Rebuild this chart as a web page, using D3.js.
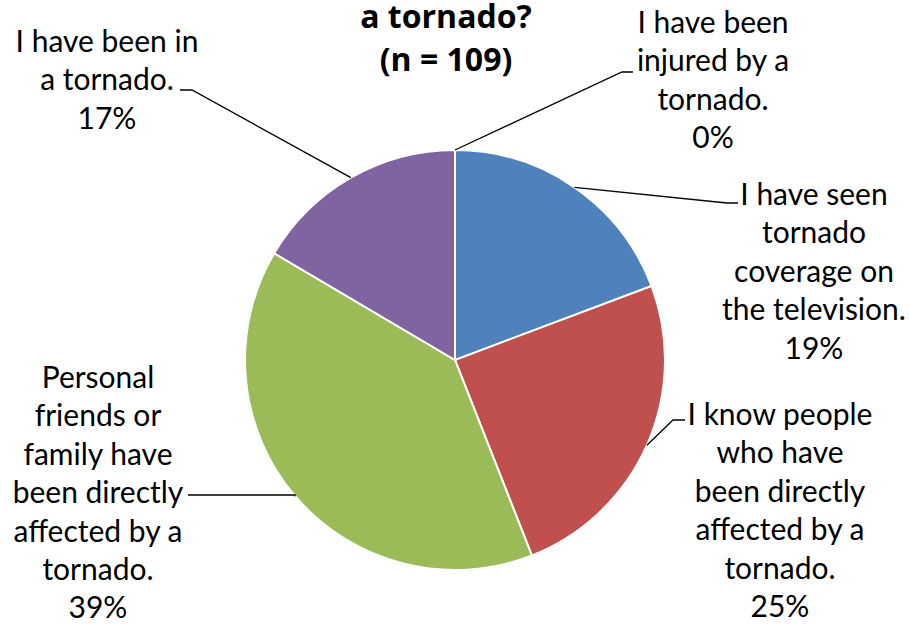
<!DOCTYPE html>
<html>
<head>
<meta charset="utf-8">
<script src="https://cdn.jsdelivr.net/npm/d3@7"></script>
<style>
  body { margin: 0; background: #fff; }
  svg text { font-family: Lato, "Open Sans", sans-serif; fill: #000; }
</style>
</head>
<body>
<div class="layout"></div>
<script>
    // answers, clockwise from 12 o'clock
    var categories = [
        "I have been injured by a tornado.",
        "I have seen tornado coverage on the television.",
        "I know people who have been directly affected by a tornado.",
        "Personal friends or family have been directly affected by a tornado.",
        "I have been in a tornado."
    ];
    var counts = [0, 21, 27, 43, 18];
    var colors = ["#4F81BD", "#4F81BD", "#C0504D", "#9BBB59", "#8064A2"];
    var labelLines = [
        ["I have been", "injured by a", "tornado."],
        ["I have seen", "tornado", "coverage on", "the television."],
        ["I know people", "who have", "been directly", "affected by a", "tornado."],
        ["Personal", "friends or", "family have", "been directly", "affected by a", "tornado."],
        ["I have been in", "a tornado."]
    ];
    var titleLines = ["a tornado?", "(n = 109)"];

    var width = 909, height = 624,
        cx = 455, cy = 360, radius = 210,
        lineH = 38.4;

    // where each label block sits (center x, first baseline) and where its leader ends
    var labelPos = [
        {x: 713, y: 33, lx: 622, ly: 72, hx: 633},
        {x: 814, y: 205, lx: 727, ly: 203, hx: 738},
        {x: 780, y: 425, lx: 673, ly: 420, hx: 685},
        {x: 98,  y: 388, lx: 295, ly: 495, hx: 188},
        {x: 107, y: 52,  lx: 192, ly: 90,  hx: 180}
    ];

    var total = d3.sum(counts);
    var fmt = d3.format(".0%");

    var svg = d3.select(".layout").append("svg")
        .attr("width", width)
        .attr("height", height);

    var pie = d3.pie().sort(null).value(function(d) { return d; });
    var arcs = pie(counts);

    var arc = d3.arc().innerRadius(0).outerRadius(radius);
    var edge = d3.arc().innerRadius(radius).outerRadius(radius);

    var g = svg.append("g")
        .attr("transform", "translate(" + cx + "," + cy + ")");

    g.selectAll("path.slice")
        .data(arcs)
        .enter().append("path")
        .attr("class", "slice")
        .attr("d", arc)
        .attr("fill", function(d, i) { return colors[i]; })
        .attr("stroke", "#fff")
        .attr("stroke-width", 2);

    // leader lines: from slice edge to label
    svg.selectAll("polyline.leader")
        .data(arcs)
        .enter().append("polyline")
        .attr("class", "leader")
        .attr("fill", "none")
        .attr("stroke", "#000")
        .attr("stroke-width", 1.3)
        .attr("points", function(d, i) {
            var c = edge.centroid(d), p = labelPos[i];
            return [[c[0] + cx, c[1] + cy], [p.lx, p.ly], [p.hx, p.ly]].join(" ");
        });

    // labels
    var labels = svg.selectAll("text.label")
        .data(arcs)
        .enter().append("text")
        .attr("class", "label")
        .attr("text-anchor", "middle")
        .style("font-size", "30px");

    labels.each(function(d, i) {
        var t = d3.select(this), p = labelPos[i];
        var lines = labelLines[i].concat([fmt(d.data / total)]);
        lines.forEach(function(s, k) {
            t.append("tspan")
                .attr("x", p.x)
                .attr("y", p.y + k * lineH)
                .text(s);
        });
    });

    // title (top of it is cut off in the original)
    svg.append("text")
        .attr("text-anchor", "middle")
        .style("font-family", "'Open Sans', sans-serif")
        .style("font-size", "32px")
        .style("font-weight", "bold")
        .selectAll("tspan")
        .data(titleLines)
        .enter().append("tspan")
        .attr("x", 446)
        .attr("y", function(d, i) { return 28 + i * 43; })
        .text(function(d) { return d; });
</script>
</body>
</html>
